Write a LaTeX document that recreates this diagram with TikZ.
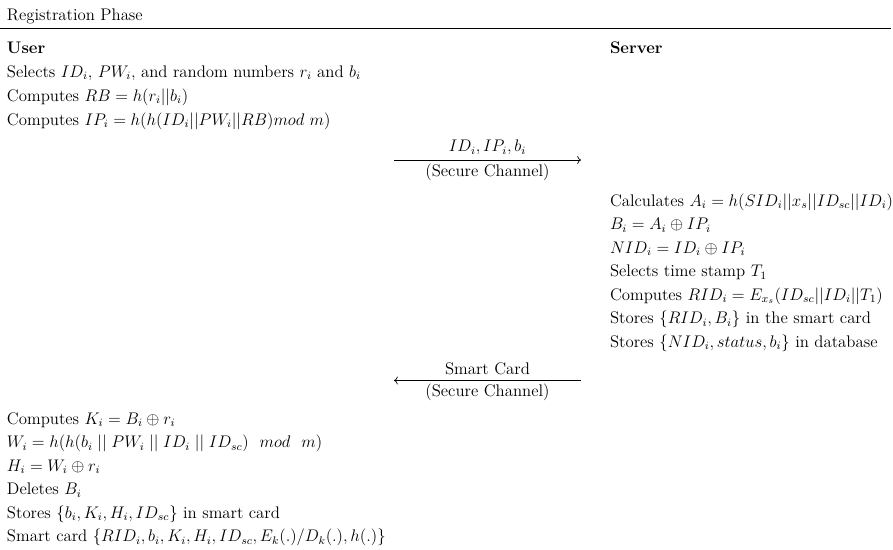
\documentclass[tikz,border=0pt,12pt]{standalone}
\usetikzlibrary{arrows.meta}
\tikzset{
  txt/.style={anchor=base west, inner sep=0pt, outer sep=0pt},
  lbl/.style={anchor=base, inner sep=0pt, outer sep=0pt},
  msg/.style={-{Computer Modern Rightarrow}, line width=0.5pt},
  rulestyle/.style={line width=1pt}
}
\begin{document}
\begin{tikzpicture}[x=0.715pt, y=-0.715pt]
\useasboundingbox (0,0) rectangle (893,549);
% header
\node[txt] (title) at (7,20) {Registration Phase};
\coordinate (rl) at (0,28.5);
\coordinate (rr) at (891,28.5);
\draw[rulestyle] (rl) -- (rr);
\node[txt] (user) at (7,53) {\textbf{User}};
\node[txt] (server) at (610,53) {\textbf{Server}};
% user part 1
\node[txt] (u1) at (7,77) {Selects $ID_i$, $PW_i$, and random numbers $r_i$ and $b_i$};
\node[txt] (u2) at (7,101) {Computes $RB = h(r_i||b_i)$};
\node[txt] (u3) at (7,125) {Computes $IP_i = h(h(ID_i||PW_i||RB)mod\ m)$};
% message 1
\coordinate (m1s) at (394,160);
\coordinate (m1e) at (581,160);
\draw[msg] (m1s) -- (m1e);
\node[lbl] (m1a) at (487.5,151.5) {$ID_i, IP_i, b_i$};
\node[lbl] (m1b) at (487.5,176) {(Secure Channel)};
% server part
\node[txt] (s1) at (610,206) {Calculates $A_i = h(SID_i||x_s||ID_{sc}||ID_i)$};
\node[txt] (s2) at (610,229.5) {$B_i = A_i \oplus IP_i$};
\node[txt] (s3) at (610,253) {$NID_i = ID_i \oplus IP_i$};
\node[txt] (s4) at (610,276.5) {Selects time stamp $T_1$};
\node[txt] (s5) at (610,300) {Computes $RID_i = E_{x_s}(ID_{sc}||ID_i||T_1)$};
\node[txt] (s6) at (610,323.5) {Stores $\{RID_i, B_i\}$ in the smart card};
\node[txt] (s7) at (610,347) {Stores $\{NID_i, status, b_i\}$ in database};
% message 2
\coordinate (m2s) at (581,380.5);
\coordinate (m2e) at (394,380.5);
\draw[msg] (m2s) -- (m2e);
\node[lbl] (m2a) at (487.5,374) {Smart Card};
\node[lbl] (m2b) at (487.5,396.5) {(Secure Channel)};
% user part 2
\node[txt] (v1) at (7,424) {Computes $K_i = B_i \oplus r_i$};
\node[txt] (v2) at (7,447.5) {$W_i = h(h(b_i\mathrel{||}PW_i\mathrel{||}ID_i\mathrel{||}ID_{sc})\ \ mod\ \ m)$};
\node[txt] (v3) at (7,471) {$H_i = W_i \oplus r_i$};
\node[txt] (v4) at (7,494.5) {Deletes $B_i$};
\node[txt] (v5) at (7,518) {Stores $\{b_i, K_i, H_i, ID_{sc}\}$ in smart card};
\node[txt] (v6) at (7,541.5) {Smart card $\{RID_i, b_i, K_i, H_i, ID_{sc}, E_k(.)/D_k(.), h(.)\}$};
\end{tikzpicture}
\end{document}
